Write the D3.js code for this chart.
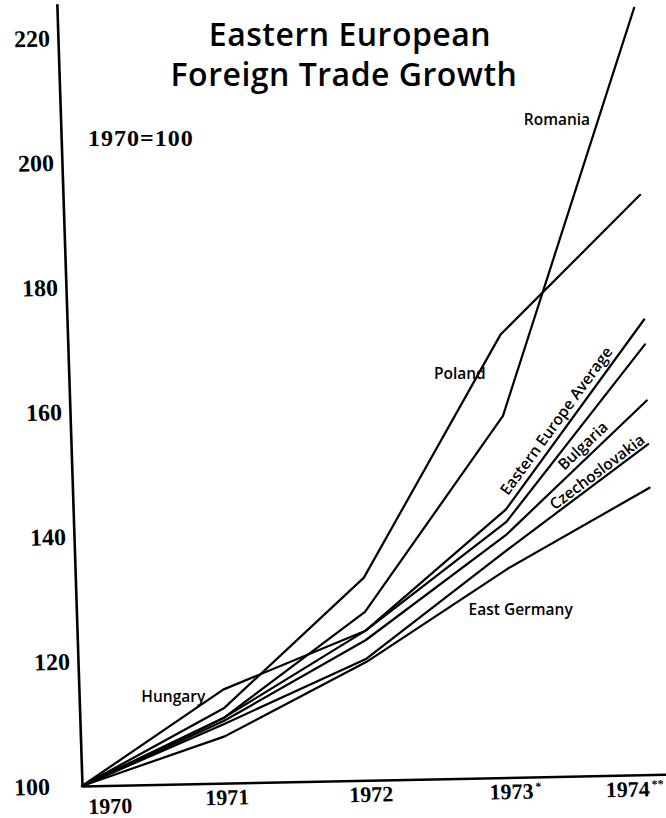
<!DOCTYPE html>
<html>
<head>
<meta charset="utf-8">
<script src="https://cdn.jsdelivr.net/npm/d3@7"></script>
<style>
  body { margin: 0; background: #fff; }
  svg { display: block; background: #fff; }
  .line { fill: none; stroke: #000; stroke-width: 2.2; stroke-linejoin: round; stroke-linecap: round; }
  .axis path { stroke: #000; stroke-width: 2.6; }
  .axis line { display: none; }
  .axis text { font-family: 'Liberation Serif', serif; font-weight: bold; font-size: 22px; fill: #000; }
  .axis.y text { font-size: 24px; }
  .title { font-family: 'Open Sans', sans-serif; font-weight: 600; font-size: 32px; letter-spacing: 0.5px; fill: #000; }
  .base { font-family: 'Liberation Serif', serif; font-weight: bold; font-size: 24px; letter-spacing: 1px; }
  .lbl { font-family: 'Open Sans', sans-serif; font-weight: 600; font-size: 15.5px; fill: #000; }
</style>
</head>
<body>
<div id="chart"></div>
<script>
// DATA (index, 1970 = 100)
const years = [1970, 1971, 1972, 1973, 1974]
const romania = [100, 110.5, 127, 158, 223]
const poland = [100, 112, 132.5, 171, 193]
const hungary = [100, 115, 124, 141, 169]
const eeAverage = [100, 110.5, 124, 143, 173]
const bulgaria = [100, 110, 122.5, 139, 160]
const czechoslovakia = [100, 109.5, 119.5, 136.5, 153]
const eastGermany = [100, 107.5, 119, 133.5, 146]

const yTicks = [100, 120, 140, 160, 180, 200, 220]
const xTickMarks = ['', '', '', '*', '**']

const series = [
  { name: 'Romania', values: romania },
  { name: 'Poland', values: poland },
  { name: 'Hungary', values: hungary },
  { name: 'Eastern Europe Average', values: eeAverage },
  { name: 'Bulgaria', values: bulgaria },
  { name: 'Czechoslovakia', values: czechoslovakia },
  { name: 'East Germany', values: eastGermany }
]

// SIZING
var width = 666
var height = 818

// the scanned page is a little skewed, so the plot sits in a sheared frame
var skew = [1, -0.02, 0.0322, 1, 56.7, 0]
function proj(px, py) {
  return [skew[0] * px + skew[2] * py + skew[4], skew[1] * px + skew[3] * py + skew[5]]
}

// SCALES
var x = d3.scaleLinear().domain([1970, 1974.05]).range([0, 584])
var y = d3.scaleLinear().domain([100, 225.5]).range([786, 3.8])

var svg = d3.select('#chart')
  .append('svg')
  .attr('width', width)
  .attr('height', height)

var plot = svg.append('g')
  .attr('transform', 'matrix(' + skew.join(',') + ')')

// Y-AXIS
var yAxis = plot.append('g')
  .attr('class', 'axis y')
  .call(d3.axisLeft(y).tickValues(yTicks).tickSize(0).tickSizeOuter(0).tickPadding(8).tickFormat(d3.format('d')))
yAxis.selectAll('.tick text')
  .attr('dx', function(d) { return d === 100 ? -24 : 0 })

// X-AXIS
var xAxis = plot.append('g')
  .attr('class', 'axis x')
  .attr('transform', 'translate(0,' + y(100) + ')')
  .call(d3.axisBottom(x).tickValues(years).tickSize(0).tickSizeOuter(0).tickPadding(6).tickFormat(d3.format('d')))
xAxis.selectAll('.tick text')
  .each(function(d, i) {
    var t = d3.select(this)
    if (i === 0) t.attr('text-anchor', 'start').attr('dx', 5).attr('dy', '1.0em')
    if (i === years.length - 1) t.attr('text-anchor', 'end').attr('dx', 4)
    if (xTickMarks[i]) {
      t.append('tspan')
        .attr('font-size', 12)
        .attr('dy', -8)
        .attr('dx', 2)
        .text(xTickMarks[i])
    }
  })

// LINES
var valueline = d3.line()
  .x(function(d) { return x(d[0]) })
  .y(function(d) { return y(d[1]) })

plot.selectAll('.line')
  .data(series)
  .enter()
  .append('path')
  .attr('class', 'line')
  .attr('d', function(s) { return valueline(years.map(function(yr, i) { return [yr, s.values[i]] })) })

// point along segment i -> i+1 of a series, in page pixels
function along(vals, i, f) {
  var p0 = proj(x(years[i]), y(vals[i]))
  var p1 = proj(x(years[i + 1]), y(vals[i + 1]))
  return {
    x: p0[0] + (p1[0] - p0[0]) * f,
    y: p0[1] + (p1[1] - p0[1]) * f,
    angle: Math.atan2(p1[1] - p0[1], p1[0] - p0[0]) * 180 / Math.PI
  }
}

// TITLE
svg.append('text').attr('class', 'title')
  .attr('x', 350).attr('y', 46).attr('text-anchor', 'middle')
  .text('Eastern European')
svg.append('text').attr('class', 'title')
  .attr('x', 344).attr('y', 86).attr('text-anchor', 'middle')
  .text('Foreign Trade Growth')

svg.append('text').attr('class', 'base')
  .attr('x', 88).attr('y', 146)
  .text('1970=100')

// FLAT LABELS
function flatLabel(text, p, anchor, dx, dy) {
  svg.append('text').attr('class', 'lbl')
    .attr('x', p.x + dx).attr('y', p.y + dy)
    .attr('text-anchor', anchor)
    .text(text)
}
flatLabel('Romania', along(romania, 3, 0.71), 'end', -6, -1)
flatLabel('Poland', along(poland, 2, 0.82), 'end', 10, 0)
flatLabel('East Germany', along(eastGermany, 2, 0.75), 'start', -4, 23)
flatLabel('Hungary', along(hungary, 0, 0.88), 'end', -1, 1)

// LABELS RUNNING ALONG THEIR LINES
function slantLabel(text, p, dy) {
  svg.append('text').attr('class', 'lbl')
    .attr('transform', 'translate(' + p.x + ',' + p.y + ') rotate(' + p.angle + ')')
    .attr('y', dy)
    .text(text)
}
slantLabel('Eastern Europe Average', along(eeAverage, 3, 0.05), -6)
slantLabel('Bulgaria', along(bulgaria, 3, 0.44), -6)
slantLabel('Czechoslovakia', along(czechoslovakia, 3, 0.35), -3)
</script>
</body>
</html>
